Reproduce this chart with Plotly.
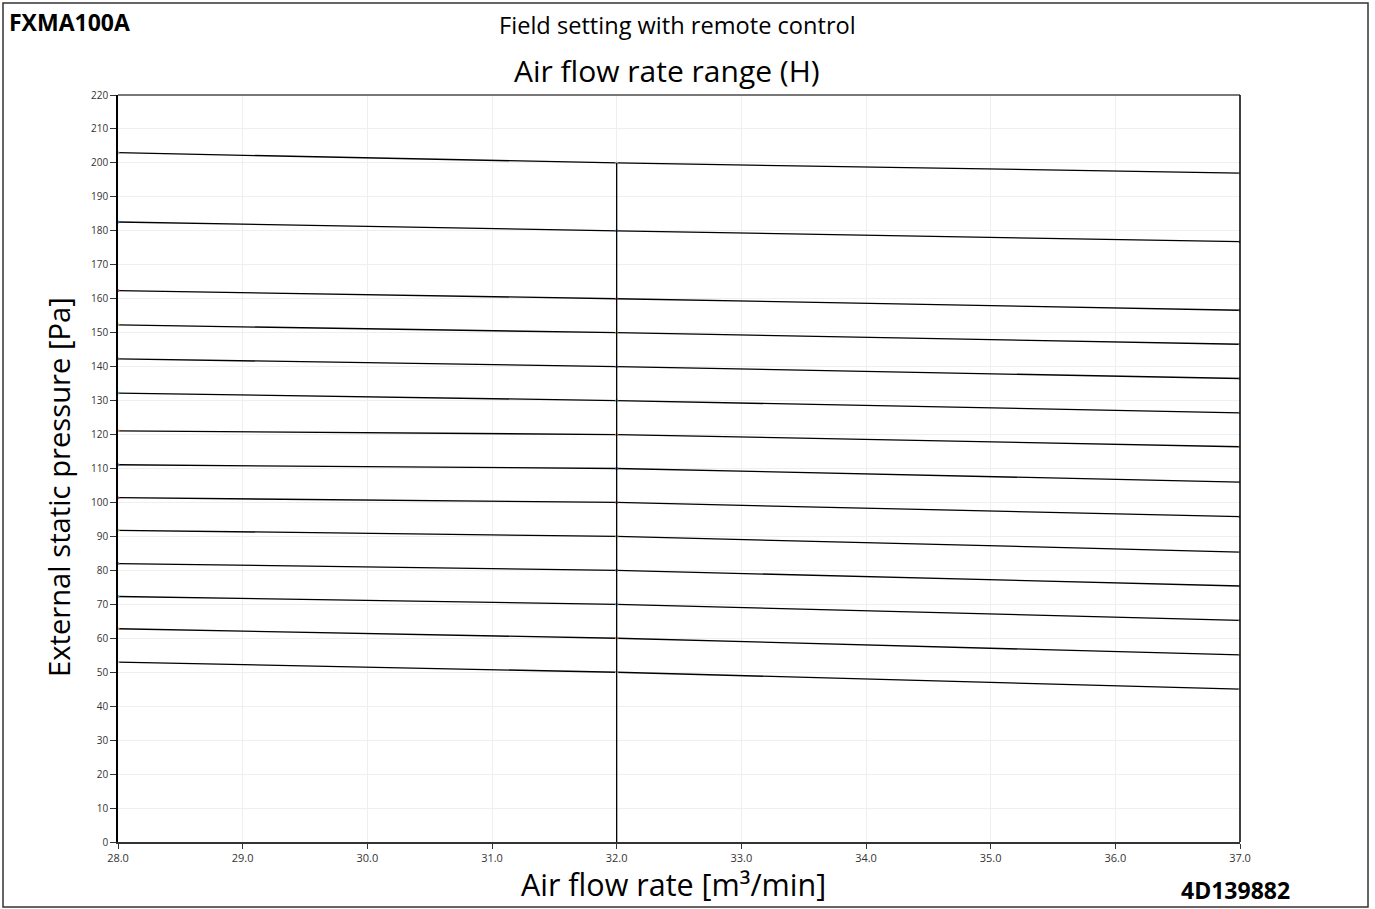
import plotly.graph_objects as go

# Data
airflow = [28.0, 32.0, 37.0]
curves = [
    [203.0, 200.0, 197.0],
    [182.6, 180.0, 176.8],
    [162.4, 160.0, 156.6],
    [152.3, 150.0, 146.6],
    [142.3, 140.0, 136.5],
    [132.2, 130.0, 126.4],
    [121.1, 120.0, 116.4],
    [111.1, 110.0, 106.0],
    [101.4, 100.0, 95.8],
    [91.8, 90.0, 85.4],
    [82.0, 80.0, 75.4],
    [72.3, 70.0, 65.3],
    [62.8, 60.0, 55.1],
    [53.0, 50.0, 45.0],
]
marker_colors = ["#A5A5A5", "#4472C4", "#C0504D", "#9BBB59", "#8064A2", "#4BACC6",
                 "#F79646", "#4472C4", "#C0504D", "#9BBB59", "#8064A2", "#4BACC6",
                 "#F79646", "#E6B9B8"]
vline_x = [32.0, 32.0]
vline_y = [0.0, 200.0]
x_ticks = [28.0, 29.0, 30.0, 31.0, 32.0, 33.0, 34.0, 35.0, 36.0, 37.0]
y_ticks = list(range(0, 221, 10))

FONT = "Open Sans, Noto Sans, sans-serif"

fig = go.Figure()
for vals, col in zip(curves, marker_colors):
    fig.add_trace(go.Scatter(
        x=airflow, y=vals, mode="lines+markers",
        line=dict(color="#000000", width=1.3, shape="spline", smoothing=0.6),
        marker=dict(color=col, size=3),
        showlegend=False, hoverinfo="x+y"))
fig.add_trace(go.Scatter(x=vline_x, y=vline_y, mode="lines",
                         line=dict(color="#000000", width=1.3), showlegend=False))

L, R, T, B = 118, 135, 95, 67
W, H = 1375, 909
pw, ph = W - L - R, H - T - B

def px(xp):
    return (xp - L) / pw

def py(yp):
    return (H - B - yp) / ph

fig.update_layout(
    width=W, height=H,
    margin=dict(l=L, r=R, t=T, b=B, autoexpand=False),
    paper_bgcolor="white", plot_bgcolor="white",
    font=dict(family=FONT, color="#000000"),
    xaxis=dict(range=[28, 37], tickvals=x_ticks, ticktext=[f"{v:.1f}" for v in x_ticks],
               showgrid=True, gridcolor="#EFEFEF", gridwidth=1,
               showline=True, linecolor="#333333", linewidth=1.5,
               ticks="outside", ticklen=5, tickcolor="#333333",
               tickfont=dict(size=11, color="#333333", family=FONT),
               zeroline=False, title=None),
    yaxis=dict(range=[0, 220], tickvals=y_ticks,
               showgrid=True, gridcolor="#EFEFEF", gridwidth=1,
               showline=True, linecolor="#000000", linewidth=1.5,
               ticks="outside", ticklen=6, tickcolor="#333333",
               tickfont=dict(size=10, color="#333333", family=FONT),
               zeroline=False, title=None),
)

shapes = [
    dict(type="line", xref="paper", yref="paper", x0=0, x1=1, y0=1, y1=1,
         line=dict(color="#777777", width=2)),
    dict(type="line", xref="paper", yref="paper", x0=1, x1=1, y0=0, y1=1,
         line=dict(color="#000000", width=1.5)),
    dict(type="rect", xref="paper", yref="paper", x0=px(3), x1=px(1368), y0=py(907), y1=py(3),
         line=dict(color="#333333", width=1.5), fillcolor="rgba(0,0,0,0)"),
]
fig.update_layout(shapes=shapes)

annotations = [
    dict(text="<b>FXMA100A</b>", x=px(7), y=py(22), xref="paper", yref="paper",
         xanchor="left", yanchor="middle", showarrow=False, font=dict(size=23, family=FONT)),
    dict(text="Field setting with remote control", x=px(677), y=py(25), xref="paper", yref="paper",
         xanchor="center", yanchor="middle", showarrow=False, font=dict(size=23.6, family=FONT)),
    dict(text="Air flow rate range (H)", x=px(667), y=py(70), xref="paper", yref="paper",
         xanchor="center", yanchor="middle", showarrow=False, font=dict(size=30, family=FONT)),
    dict(text="Air flow rate [m³/min]", x=px(673), y=py(884), xref="paper", yref="paper",
         xanchor="center", yanchor="middle", showarrow=False, font=dict(size=30.5, family=FONT)),
    dict(text="External static pressure [Pa]", x=px(59), y=py(487), xref="paper", yref="paper",
         xanchor="center", yanchor="middle", showarrow=False, textangle=-90,
         font=dict(size=29.2, family=FONT)),
    dict(text="<b>4D139882</b>", x=px(1235), y=py(890), xref="paper", yref="paper",
         xanchor="center", yanchor="middle", showarrow=False, font=dict(size=23, family=FONT)),
]
fig.update_layout(annotations=annotations)

fig.write_html("out.html", config={"displayModeBar": False},
               post_script="document.body.style.margin='0';")
